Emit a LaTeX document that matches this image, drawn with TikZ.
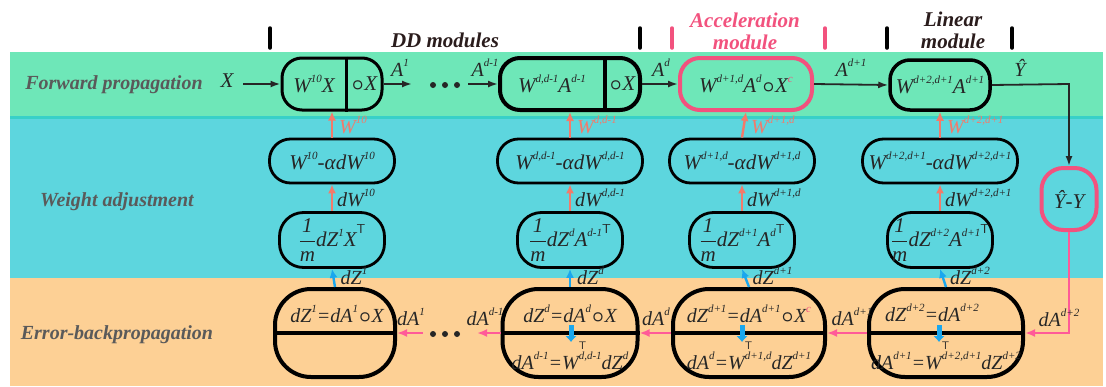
\documentclass[tikz,border=0pt]{standalone}
\usepackage{fontspec}
\setmainfont{Liberation Serif}
\usetikzlibrary{arrows.meta}
\definecolor{bgG}{HTML}{6EE7B8}
\definecolor{bgL}{HTML}{38D0C8}
\definecolor{bgC}{HTML}{5DD6DE}
\definecolor{bgO}{HTML}{FDD095}
\definecolor{txtc}{HTML}{262626}
\definecolor{rowc}{HTML}{5A5A5A}
\definecolor{pinkc}{HTML}{F2527E}
\definecolor{salmon}{HTML}{F47A6A}
\definecolor{hpink}{HTML}{FF5A98}
\definecolor{bluec}{HTML}{1AA7EE}
\definecolor{darkc}{HTML}{2A1C1C}
\newcommand{\su}[1]{\raisebox{0.5em}{\fontsize{11}{11}\selectfont #1}}
\newcommand{\tsup}{\raisebox{0.62em}{\fontsize{13}{13}\selectfont\sffamily\upshape T}}
\newcommand{\trs}{\rlap{\raisebox{1.0em}{\fontsize{11}{11}\selectfont\sffamily\upshape T}}}
\newcommand{\ci}{\kern1pt{\boldmath$\circ$}\kern0.5pt}
\newcommand{\fr}{$\displaystyle\frac{\mbox{\itshape 1}}{\mbox{\itshape m}}$}
\tikzset{
  box/.style={draw=black, line width=3pt, inner sep=0pt, text=txtc,
    font=\fontsize{21}{21}\selectfont\itshape},
  fwdbox/.style={box, minimum height=52pt, rounded corners=20pt},
  wbox/.style={box, line width=2.8pt, minimum height=44pt, rounded corners=21pt},
  gbox/.style={box, line width=2.8pt, minimum width=105pt, minimum height=55pt, rounded corners=24pt},
  bbox/.style={box, line width=4pt, minimum height=88pt, rounded corners=36pt},
  txt/.style={text=txtc, inner sep=1pt, font=\fontsize{21}{21}\selectfont\itshape},
  btxt/.style={text=txtc, inner sep=1pt, font=\fontsize{20}{20}\selectfont\itshape},
  lab/.style={text=txtc, inner sep=1pt, font=\fontsize{20}{20}\selectfont\itshape},
  rowlab/.style={text=rowc, font=\fontsize{20}{20}\selectfont\bfseries\itshape},
  modlab/.style={font=\fontsize{21}{22}\selectfont\bfseries\itshape, align=center},
  fwd/.style={draw=txtc, line width=1.8pt, -{Latex[length=10pt,width=7pt]}},
  salm/.style={draw=salmon, line width=2.4pt, -{Latex[length=9pt,width=8pt]}},
  blu/.style={draw=bluec, line width=2.4pt, -{Latex[length=9pt,width=8pt]}},
  fatblu/.style={draw=bluec, line width=5pt, -{Latex[length=6pt,width=12pt]}},
  pk/.style={draw=hpink, line width=2.8pt, -{Latex[length=10pt,width=8pt]}},
  tickk/.style={line width=3.5pt, line cap=round},
  dot/.style={circle, fill=txtc, inner sep=0pt, minimum size=6pt}
}
\begin{document}
\begin{tikzpicture}[x=1pt,y=-1pt]
\useasboundingbox (0,0) rectangle (1106,386);
% bands
\fill[bgG] (10,52) rectangle (1103,116);
\fill[bgL] (10,116) rectangle (1103,119);
\fill[bgC] (10,119) rectangle (1103,278);
\fill[bgO] (10,278) rectangle (1103,386);
% row labels
\node[rowlab] (lf) at (114,85) {Forward propagation};
\node[rowlab] (lw) at (117,202) {Weight adjustment};
\node[rowlab] (le) at (117,335) {Error-backpropagation};
% module markers
\draw[tickk, black] (270,28) -- (270,48);
\draw[tickk, black] (640,28) -- (640,48);
\draw[tickk, pinkc] (672,28) -- (672,48);
\draw[tickk, pinkc] (825,28) -- (825,48);
\draw[tickk, black] (887,28) -- (887,48);
\draw[tickk, black] (1012,28) -- (1012,48);
\node[modlab, text=darkc] (mdd) at (445,40) {DD modules};
\node[modlab, text=pinkc] (macc) at (745,31) {Acceleration\\module};
\node[modlab, text=darkc] (mlin) at (953,30) {Linear\\module};
% forward row
\node[txt] (x0) at (227,81) {X};
\node[fwdbox, minimum width=100pt] (f1) at (332,84) {};
\draw[line width=3pt] ([shift={(14,0)}]f1.north) -- ([shift={(14,0)}]f1.south);
\node[txt] (f1a) at (314,84) {W\su{10}X};
\node[txt] (f1b) at (364,84) {\ci X};
\node[fwdbox, line width=4pt, minimum width=140pt] (f2) at (570,84) {};
\draw[line width=4pt] ([shift={(35,0)}]f2.north) -- ([shift={(35,0)}]f2.south);
\node[txt] (f2a) at (552,84) {W\su{d,d-1}A\su{d-1}};
\node[txt] (f2b) at (622,84) {\ci X};
\node[fwdbox, draw=pinkc, line width=4pt, minimum width=132pt] (f3) at (746,84) {W\su{d+1,d}A\su{d}\ci X\su{\textcolor{pinkc}{c}}};
\node[fwdbox, line width=3.5pt, minimum width=100pt, minimum height=50pt] (f4) at (940,85) {W\su{d+2,d+1}A\su{d+1}};
\node[box, draw=pinkc, line width=4pt, minimum width=55pt, minimum height=62pt, rounded corners=22pt] (yh) at (1069,199) {Ŷ-Y};
\coordinate (a1e) at (412,84);
\coordinate (ad1) at (468,84);
\coordinate (yc) at (1069,84);
\draw[fwd] (243,84) -- (f1.west);
\draw[fwd] (f1.east) -- (a1e);
\node[lab] (la1) at (400,68) {A\su{1}};
\node[dot] (fd1) at (433,85) {};
\node[dot] (fd2) at (445,85) {};
\node[dot] (fd3) at (457,85) {};
\draw[fwd] (ad1) -- (f2.west);
\node[lab] (lad1) at (485,68) {A\su{d-1}};
\draw[fwd] (f2.east) -- (f3.west);
\node[lab] (lad) at (661,68) {A\su{d}};
\draw[fwd] (f3.east) -- (f4.west);
\node[lab] (lad2) at (851,68) {A\su{d+1}};
\draw[fwd, rounded corners=0pt] (f4.east) -- (yc) -- (yh.north);
\node[lab] (lyh) at (1020,68) {Ŷ};
% weight row
\node[wbox, minimum width=125pt] (w1) at (332,161) {W\su{10}-αdW\su{10}};
\node[wbox, minimum width=145pt] (w2) at (570,161) {W\su{d,d-1}-αdW\su{d,d-1}};
\node[wbox, minimum width=145pt] (w3) at (742,161) {W\su{d+1,d}-αdW\su{d+1,d}};
\node[wbox, minimum width=155pt] (w4) at (940,161) {W\su{d+2,d+1}-αdW\su{d+2,d+1}};
\node[gbox] (g1) at (332,240) {\fr dZ\su{1}X\tsup};
\node[gbox] (g2) at (570,240) {\fr dZ\su{d}A\su{d-1}\tsup};
\node[gbox] (g3) at (742,240) {\fr dZ\su{d+1}A\su{d}\tsup};
\node[gbox] (g4) at (940,240) {\fr dZ\su{d+2}A\su{d+1}\tsup};
\foreach \i/\s in {1/10, 2/{d,d-1}, 3/{d+1,d}, 4/{d+2,d+1}} {
  \draw[salm] (w\i.north) -- node[lab, text=salmon, right, xshift=5pt] {W\su{\s}} (f\i.south);
  \draw[salm] (g\i.north) -- node[lab, right, xshift=3pt] {dW\su{\s}} (w\i.south);
}
% bottom row
\node[bbox, minimum width=120pt] (b1) at (335,333) {};
\node[bbox, minimum width=135pt] (b2) at (570,333) {};
\node[bbox, minimum width=152pt] (b3) at (749,333) {};
\node[bbox, minimum width=154pt] (b4) at (946,333) {};
\foreach \i in {1,2,3,4} {\draw[line width=4pt] (b\i.west) -- (b\i.east);}
\node[btxt] (b1t) at (337,314) {dZ\su{1}=dA\su{1}\ci X};
\node[btxt] (b2t) at (570,314) {dZ\su{d}=dA\su{d}\ci X};
\node[btxt] (b2b) at (570,356) {dA\su{d-1}=W\trs\su{d,d-1}dZ\su{d}};
\node[btxt] (b3t) at (749,314) {dZ\su{d+1}=dA\su{d+1}\ci X\su{\textcolor{pinkc}{c}}};
\node[btxt] (b3b) at (749,356) {dA\su{d}=W\trs\su{d+1,d}dZ\su{d+1}};
\node[btxt] (b4t) at (932,313) {dZ\su{d+2}=dA\su{d+2}};
\node[btxt] (b4b) at (946,356) {dA\su{d+1}=W\trs\su{d+2,d+1}dZ\su{d+2}};
\foreach \i/\s in {1/1, 2/d, 3/{d+1}, 4/{d+2}} {
  \draw[blu] (b\i.north) -- node[lab, right, xshift=5pt, yshift=2pt] {dZ\su{\s}} (g\i.south);
}
\coordinate (ib2a) at (571,325); \coordinate (ib2b) at (571,342);
\coordinate (ib3a) at (742,325); \coordinate (ib3b) at (742,342);
\coordinate (ib4a) at (939,325); \coordinate (ib4b) at (939,342);
\draw[fatblu] (ib2a) -- (ib2b);
\draw[fatblu] (ib3a) -- (ib3b);
\draw[fatblu] (ib4a) -- (ib4b);
\coordinate (da1) at (423,333);
\coordinate (dad1) at (477,333);
\coordinate (yb) at (1069,333);
\draw[pk] (da1) -- (b1.east);
\node[lab] (lda1) at (411,317) {dA\su{1}};
\node[dot] (bd1) at (433,334) {};
\node[dot] (bd2) at (445,334) {};
\node[dot] (bd3) at (457,334) {};
\draw[pk] (b2.west) -- (dad1);
\node[lab] (ldad1) at (485,317) {dA\su{d-1}};
\draw[pk] (b3.west) -- (b2.east);
\node[lab] (ldad) at (656,317) {dA\su{d}};
\draw[pk] (b4.west) -- (b3.east);
\node[lab] (ldad2) at (852,317) {dA\su{d+1}};
\draw[pk] (yh.south) -- (yb) -- (b4.east);
\node[lab] (ldad3) at (1059,318) {dA\su{d+2}};
\end{tikzpicture}
\end{document}
